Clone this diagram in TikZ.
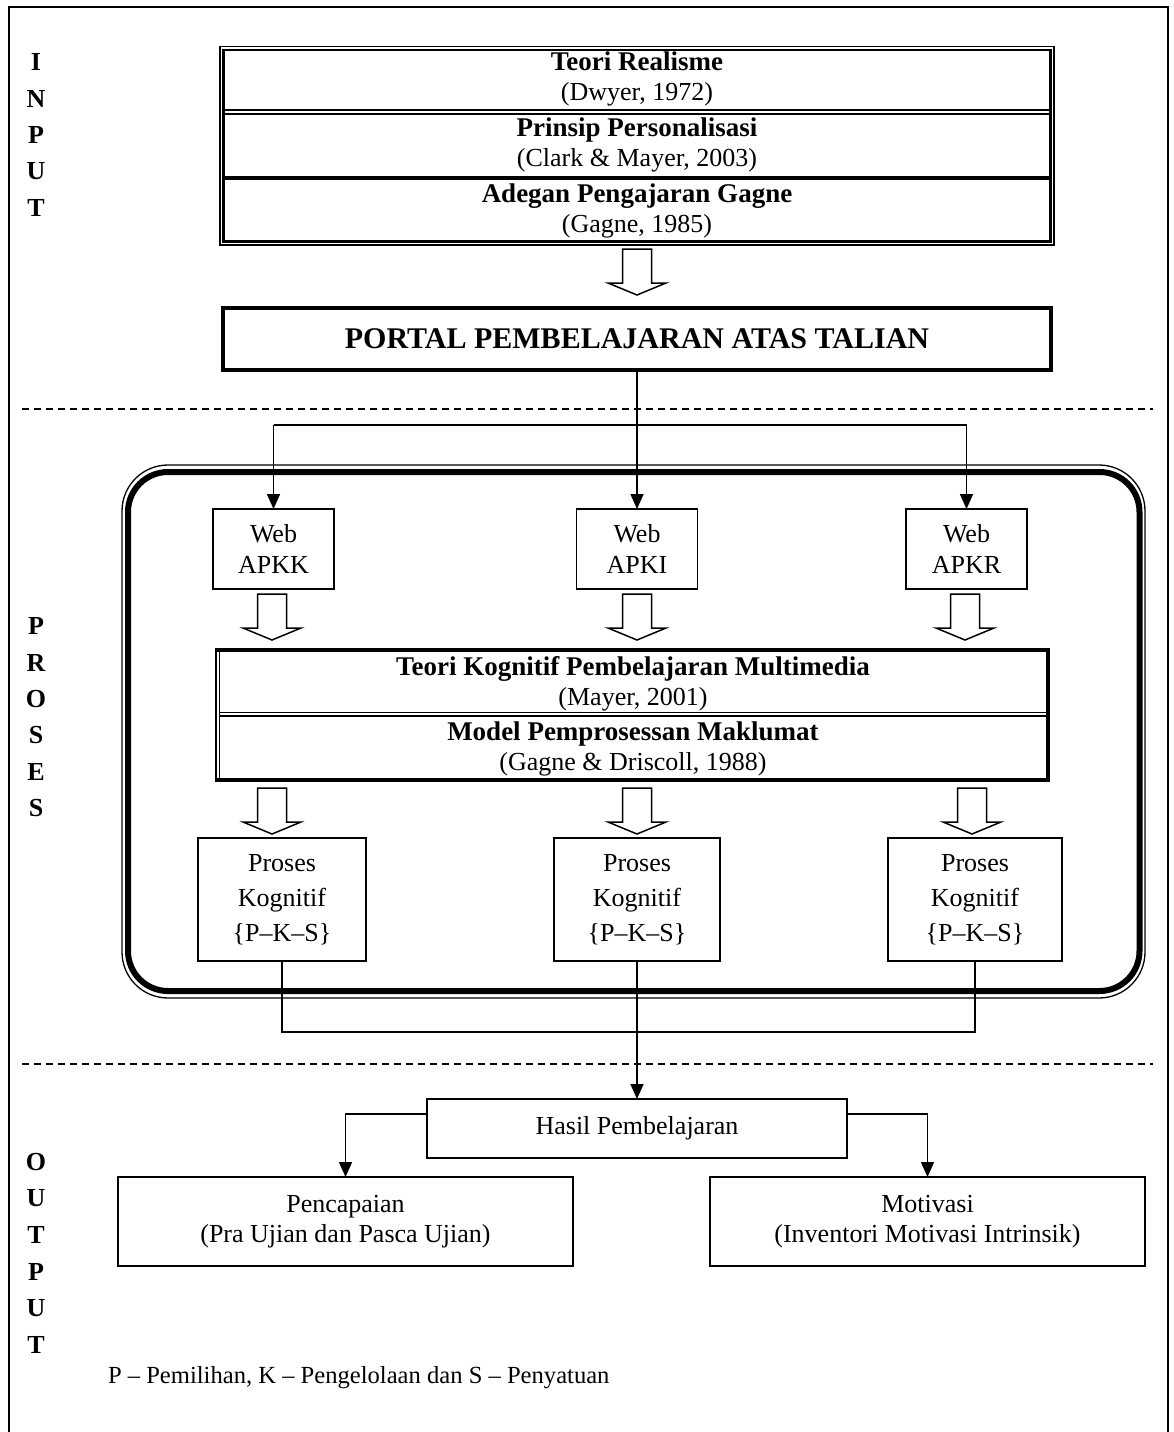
\documentclass[tikz,border=0pt]{standalone}
\usepackage{fontspec}
\setmainfont{Liberation Serif}
\usetikzlibrary{arrows.meta}
\newcommand{\bt}[1]{{\fontsize{27}{30}\selectfont\bfseries #1}}
\begin{document}
\begin{tikzpicture}[x=1pt,y=-1pt,
  every node/.style={inner sep=0pt, outer sep=0pt},
  txt/.style={align=center, font=\fontsize{26}{30}\selectfont},
  box/.style={draw, line width=1.5pt, align=center},
  letter/.style={font=\fontsize{26}{30}\selectfont\bfseries, anchor=center},
  conn/.style={line width=1.6pt},
  arr/.style={line width=1.6pt, -{Triangle[width=13pt,length=15pt]}},
  sep/.style={line width=1.5pt, dash pattern=on 7pt off 5pt},
  harrow/.pic={\draw[line width=1.5pt, fill=white, line join=miter]
     (-14.5,0) -- (14.5,0) -- (14.5,34) -- (29,34) -- (0,46) -- (-29,34) -- (-14.5,34) -- cycle;}
]
\useasboundingbox (0,0) rectangle (1174,1432);
% outer frame
\draw[line width=2pt] (9,1440) -- (9,7) -- (1168,7) -- (1168,1440);
% separators
\draw[sep] (22,409) -- (1153,409);
\draw[sep] (22,1064) -- (1153,1064);
% side letters
\foreach \l [count=\i from 0] in {I,N,P,U,T} \node[letter] (in\i) at (36,62+36.5*\i) {\l};
\foreach \l [count=\i from 0] in {P,R,O,S,E,S} \node[letter] (pr\i) at (36,626+36.5*\i) {\l};
\foreach \l [count=\i from 0] in {O,U,T,P,U,T} \node[letter] (ou\i) at (36,1162+36.5*\i) {\l};

% top stacked box
\draw[line width=1.5pt] (220,46.5) rectangle (1054,245);
\draw[line width=2.5pt] (223.5,50) rectangle (1050.5,241.5);
\draw[line width=1.5pt] (223.5,110) -- (1050.5,110);
\draw[line width=2pt] (223.5,113.5) -- (1050.5,113.5);
\draw[line width=4pt] (223.5,178) -- (1050.5,178);
\node[txt] (t1) at (637,79) {\bt{Teori Realisme}\\(Dwyer, 1972)};
\node[txt] (t2) at (637,145) {\bt{Prinsip Personalisasi}\\(Clark \& Mayer, 2003)};
\node[txt] (t3) at (637,210.5) {\bt{Adegan Pengajaran Gagne}\\(Gagne, 1985)};
\pic at (637,249) {harrow};

% portal
\node[draw, line width=4pt, minimum width=828, minimum height=62,
  font=\fontsize{30}{34}\selectfont\bfseries] (portal) at (637,339) {PORTAL PEMBELAJARAN ATAS TALIAN};

% process rounded frame
\draw[line width=1.3pt, rounded corners=46] (122,465) rectangle (1145,998);
\draw[line width=6pt, rounded corners=40] (128,472) rectangle (1139.5,991);

% web boxes
\node[box, txt, font=\fontsize{26}{31}\selectfont, minimum width=121, minimum height=80] (w1) at (273.5,549) {Web\\APKK};
\node[box, txt, font=\fontsize{26}{31}\selectfont, minimum width=121, minimum height=80] (w2) at (637,549) {Web\\APKI};
\node[box, txt, font=\fontsize{26}{31}\selectfont, minimum width=121, minimum height=80] (w3) at (966.5,549) {Web\\APKR};

\coordinate (bj) at (637,425);
\draw[arr] (portal.south) -- (w2.north);
\draw[conn] (bj -| w1) -- (bj -| w3);
\draw[arr] (bj -| w1) -- (w1.north);
\draw[arr] (bj -| w3) -- (w3.north);

\pic at (272,594) {harrow};
\pic at (637,594) {harrow};
\pic at (965,594) {harrow};

% Teori Kognitif box
\draw[line width=4pt] (216,650) -- (1048,650) -- (1048,780) -- (216,780);
\draw[line width=1.5pt] (216,648) -- (216,782);
\draw[line width=1.5pt] (219.5,650) -- (219.5,780);
\draw[line width=1.5pt] (219.5,712.5) -- (1048,712.5);
\draw[line width=1.5pt] (219.5,716) -- (1048,716);
\node[txt] (k1) at (633,684) {\bt{Teori Kognitif Pembelajaran Multimedia}\\(Mayer, 2001)};
\node[txt] (k2) at (633,748.5) {\bt{Model Pemprosessan Maklumat}\\(Gagne \& Driscoll, 1988)};

\pic at (272,788) {harrow};
\pic at (637,788) {harrow};
\pic at (972,788) {harrow};

% proses boxes
\node[box, align=center, font=\fontsize{26}{35}\selectfont, minimum width=168, minimum height=123] (p1) at (282,899.5) {Proses\\Kognitif\\\{P--K--S\}};
\node[box, align=center, font=\fontsize{26}{35}\selectfont, minimum width=166, minimum height=123] (p2) at (637,899.5) {Proses\\Kognitif\\\{P--K--S\}};
\node[box, align=center, font=\fontsize{26}{35}\selectfont, minimum width=174, minimum height=123] (p3) at (975,899.5) {Proses\\Kognitif\\\{P--K--S\}};

% hasil
\node[box, txt, minimum width=420, minimum height=59] (hasil) at (637,1128.5) {Hasil Pembelajaran};
\coordinate (jn) at (637,1032);
\draw[conn] (p1.south) -- (p1.south |- jn) -- (p3.south |- jn) -- (p3.south);
\draw[arr] (p2.south) -- (hasil.north);

% outputs
\node[box, txt, minimum width=455, minimum height=89] (o1) at (345.5,1221.5) {Pencapaian\\(Pra Ujian dan Pasca Ujian)};
\node[box, txt, minimum width=435, minimum height=89] (o2) at (927.5,1221.5) {Motivasi\\(Inventori Motivasi Intrinsik)};
\coordinate (hb) at (637,1114);
\draw[arr] (hb -| hasil.west) -- (hb -| o1) -- (o1.north);
\draw[arr] (hb -| hasil.east) -- (hb -| o2) -- (o2.north);

% legend
\node[anchor=west, font=\fontsize{24.6}{30}\selectfont] (leg) at (108,1378) {P -- Pemilihan, K -- Pengelolaan dan S -- Penyatuan};
\end{tikzpicture}
\end{document}
